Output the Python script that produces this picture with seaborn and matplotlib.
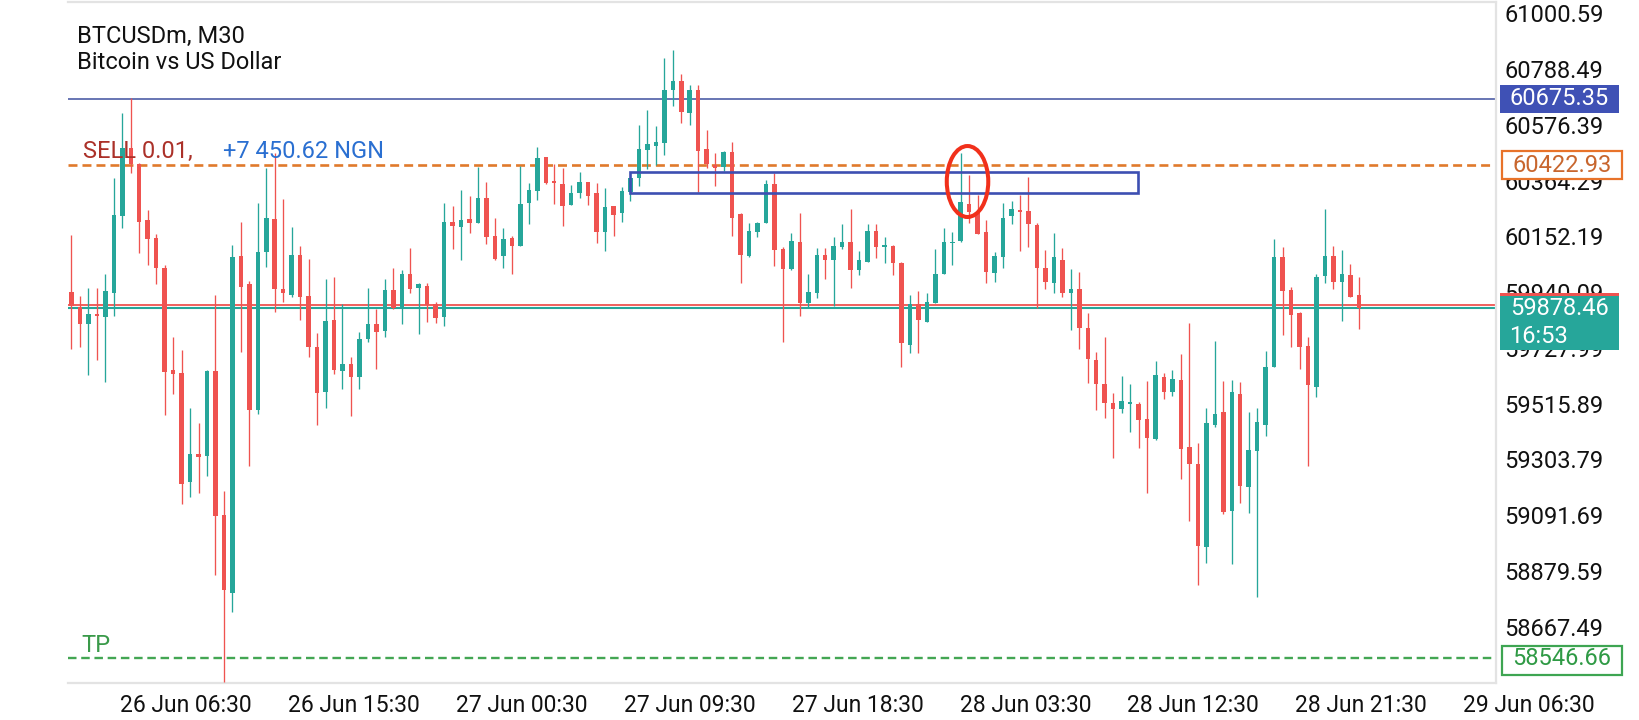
import matplotlib
matplotlib.use("Agg")
import numpy as np
import pandas as pd
import matplotlib.pyplot as plt
import matplotlib.transforms as mtransforms
from matplotlib.patches import Rectangle, Ellipse
import seaborn as sns

symbol_title = "BTCUSDm, M30"
symbol_desc = "Bitcoin vs US Dollar"

# M30 candles, oldest first
opens = [59940, 59883, 59818, 59856, 59845, 59937, 60230, 60489, 60428, 60215,
         60146, 60033, 59643, 59631, 59216, 59325, 59316, 59641, 59093, 58796,
         60076, 59971, 59493, 60093, 60219, 59951, 59928, 60080, 59924, 59733,
         59559, 59834, 59641, 59668, 59617, 59760, 59818, 59793, 59948, 59880,
         60008, 59954, 59962, 59894, 59847, 60207, 60189, 60218, 60204, 60298,
         60153, 60079, 60145, 60117, 60280, 60326, 60454, 60363, 60350, 60273,
         60318, 60359, 60317, 60169, 60269, 60242, 60322, 60373, 60481, 60496,
         60508, 60709, 60742, 60623, 60709, 60486, 60425, 60417, 60473, 60236,
         60077, 60170, 60204, 60351, 60104, 60027, 60131, 59900, 59935, 60080,
         60062, 60113, 60131, 60024, 60055, 60172, 60110, 60117, 60052, 59739,
         59895, 59828, 59897, 60011, 60126, 60134, 60275, 60246, 60169, 60014,
         60075, 60230, 60252, 60250, 60195, 60033, 59976, 60062, 59935, 59952,
         59802, 59682, 59590, 59517, 59497, 59516, 59514, 59456, 59380, 59616,
         59559, 59606, 59351, 59286, 58972, 59434, 59485, 59109, 59552, 59197,
         59337, 59434, 59656, 60075, 59948, 59859, 59736, 59580, 60001, 60077,
         59980, 60005, 59929]
highs = [60158, 59924, 59954, 59954, 60008, 60376, 60621, 60680, 60430, 60253,
         60161, 60044, 59769, 59720, 59499, 59444, 59645, 59931, 59182, 60121,
         60207, 59981, 60278, 60414, 60469, 60294, 60189, 60115, 60065, 59784,
         59992, 59999, 59894, 59695, 59788, 59954, 59876, 59989, 60033, 60026,
         60108, 59976, 59976, 59903, 60281, 60268, 60328, 60307, 60417, 60358,
         60221, 60186, 60153, 60421, 60354, 60491, 60455, 60427, 60412, 60347,
         60397, 60360, 60354, 60336, 60269, 60341, 60374, 60576, 60633, 60572,
         60832, 60861, 60770, 60728, 60728, 60557, 60468, 60477, 60511, 60240,
         60204, 60208, 60366, 60392, 60113, 60164, 60242, 60011, 60107, 60107,
         60148, 60198, 60255, 60096, 60199, 60199, 60148, 60119, 60055, 59929,
         59944, 59935, 60105, 60183, 60169, 60468, 60385, 60309, 60214, 60094,
         60278, 60288, 60309, 60377, 60202, 60100, 60167, 60107, 60027, 60016,
         59859, 59711, 59768, 59555, 59621, 59590, 59522, 59603, 59679, 59631,
         59644, 59705, 59821, 59365, 59498, 59754, 59602, 59606, 59597, 59485,
         59498, 59716, 60141, 60113, 59958, 59866, 59770, 60011, 60255, 60115,
         60100, 60047, 59996]
lows = [59722, 59730, 59624, 59681, 59597, 59849, 60183, 60394, 60090, 60044,
        59971, 59474, 59553, 59134, 59161, 59177, 59240, 58864, 58455, 58723,
        59713, 59277, 59477, 60036, 59863, 59903, 59921, 59835, 59695, 59436,
        59499, 59627, 59572, 59468, 59570, 59749, 59647, 59769, 59876, 59818,
        59935, 59781, 59828, 59822, 59812, 60104, 60062, 60166, 60202, 60123,
        60062, 60033, 60011, 60115, 60198, 60290, 60351, 60274, 60193, 60271,
        60299, 60271, 60128, 60098, 60155, 60208, 60288, 60345, 60407, 60422,
        60462, 60648, 60582, 60576, 60322, 60411, 60344, 60401, 60155, 59973,
        60072, 60151, 60202, 60039, 59751, 60024, 59849, 59882, 59916, 59989,
        59888, 60105, 59954, 60005, 60055, 60071, 60052, 60005, 59654, 59707,
        59710, 59828, 59897, 60011, 60043, 60132, 60202, 60162, 59973, 59980,
        60033, 60199, 60098, 60113, 59878, 59951, 59935, 59920, 59796, 59725,
        59593, 59491, 59462, 59310, 59481, 59409, 59348, 59174, 59377, 59532,
        59546, 59230, 59070, 58825, 58911, 59428, 59095, 58904, 59136, 59098,
        58780, 59394, 59656, 59776, 59732, 59646, 59278, 59542, 59976, 59952,
        59831, 59920, 59798]
closes = [59886, 59818, 59856, 59850, 59944, 60234, 60489, 60428, 60207, 60142,
          60033, 59635, 59627, 59209, 59325, 59314, 59641, 59090, 58807, 60074,
          59958, 59493, 60093, 60223, 59951, 59937, 60080, 59921, 59730, 59556,
          59831, 59645, 59665, 59617, 59763, 59818, 59788, 59948, 59880, 60008,
          59951, 59970, 59892, 59842, 60207, 60191, 60214, 60204, 60300, 60151,
          60065, 60142, 60117, 60275, 60328, 60449, 60356, 60356, 60269, 60316,
          60359, 60307, 60169, 60265, 60235, 60326, 60374, 60484, 60503, 60511,
          60711, 60742, 60626, 60709, 60477, 60427, 60413, 60473, 60223, 60081,
          60172, 60204, 60351, 60100, 60029, 60135, 59900, 59939, 60080, 60062,
          60114, 60131, 60024, 60062, 60172, 60113, 60119, 60050, 59745, 59895,
          59834, 59901, 60011, 60131, 60131, 60283, 60246, 60162, 60018, 60079,
          60223, 60255, 60246, 60198, 60031, 59980, 60075, 59938, 59951, 59802,
          59687, 59590, 59517, 59497, 59526, 59519, 59453, 59384, 59625, 59559,
          59609, 59344, 59285, 58974, 59443, 59476, 59105, 59561, 59204, 59339,
          59446, 59656, 60075, 59945, 59853, 59732, 59587, 59996, 60077, 59980,
          60008, 59923, 59878.46]

price_ticks = [61000.59, 60788.49, 60576.39, 60364.29, 60152.19, 59940.09,
               59727.99, 59515.89, 59303.79, 59091.69, 58879.59, 58667.49]
time_labels = ["26 Jun 06:30", "26 Jun 15:30", "27 Jun 00:30", "27 Jun 09:30",
               "27 Jun 18:30", "28 Jun 03:30", "28 Jun 12:30", "28 Jun 21:30",
               "29 Jun 06:30"]

hline_price = 60675.35
sell_price = 60422.93
tp_price = 58546.66
bid_price = 59878.46
ask_price = 59891.0
countdown = "16:53"
trade_label = "SELL 0.01,"
profit_label = "+7 450.62 NGN"

# hand-drawn annotations (bar index / price)
zone_bars = [65.9, 125.9]
zone_prices = [60316, 60396]
ring_center = [105.8, 60361]
ring_size = [4.9, 270]

UP = "#26a69a"
DOWN = "#ef5350"

df = pd.DataFrame({"open": opens, "high": highs, "low": lows, "close": closes})
df["bar"] = np.arange(len(df))
df["up"] = df["close"] >= df["open"]
df["color"] = np.where(df["up"], UP, DOWN)

sns.set_theme(style="white")
plt.rcParams["font.family"] = ["Roboto", "DejaVu Sans"]

fig = plt.figure(figsize=(16.4, 7.2), dpi=100)
ax = fig.add_axes([68 / 1640, 37 / 720, 1428 / 1640, 681 / 720])
ax.set_xlim(-0.41, 168.2)
ax.set_ylim(58453, 61044)
ppx = (61044 - 58453) / 681.0  # price per pixel

# candles
body_lo = df[["open", "close"]].min(axis=1)
body_h = (df["close"] - df["open"]).abs().clip(lower=ppx * 1.5)
ax.vlines(df["bar"], df["low"], df["high"], colors=df["color"], lw=0.95, zorder=3)
ax.bar(df["bar"], body_h, bottom=body_lo, width=0.53, color=df["color"],
       linewidth=0, zorder=4)

# horizontal levels
ax.axhline(hline_price, color="#3f4f9f", lw=1.1, zorder=2)
ax.axhline(sell_price, color="#e07a2c", lw=1.9, dashes=(3.4, 1.9), zorder=2)
ax.axhline(tp_price, color="#43a653", lw=1.7, dashes=(3.6, 2.0), zorder=2)
ax.axhline(ask_price, color=DOWN, lw=1.3, zorder=2)
ax.axhline(bid_price, color=UP, lw=1.5, zorder=2)

# drawn objects
ax.add_patch(Rectangle((zone_bars[0], zone_prices[0]), zone_bars[1] - zone_bars[0],
                       zone_prices[1] - zone_prices[0], fill=False,
                       edgecolor="#3d4fb2", lw=1.9, zorder=5))
ax.add_patch(Ellipse(ring_center, ring_size[0], ring_size[1], fill=False,
                     edgecolor="#f1301b", lw=2.9, zorder=6))

# texts in chart
ax.text(0.0061, 0.9403, symbol_title, transform=ax.transAxes, fontsize=17,
        color="#111111", va="baseline", ha="left")
ax.text(0.0061, 0.9011, symbol_desc, transform=ax.transAxes, fontsize=17,
        color="#111111", va="baseline", ha="left")
ax.annotate(trade_label, xy=(0.0103, sell_price), xycoords=("axes fraction", "data"),
            xytext=(0, 5.4), textcoords="offset points", fontsize=17,
            color="#ab3129", va="baseline", ha="left", zorder=7)
ax.annotate(profit_label, xy=(0.1083, sell_price), xycoords=("axes fraction", "data"),
            xytext=(0, 5.4), textcoords="offset points", fontsize=17,
            color="#2a6fd1", va="baseline", ha="left", zorder=7)
ax.annotate("TP", xy=(0.0095, tp_price), xycoords=("axes fraction", "data"),
            xytext=(0, 4.8), textcoords="offset points", fontsize=17,
            color="#3a9a4a", va="baseline", ha="left", zorder=7)

# price axis on the right
ax.yaxis.tick_right()
ax.set_yticks(price_ticks, [f"{p:.2f}" for p in price_ticks])
ax.tick_params(axis="y", length=3, width=1, color="#d6d6d6", pad=3,
               labelsize=17, labelcolor="#111111")

# time axis, labels start at their tick
bars_per_label = 19.82
ax.set_xticks([5.76 + k * bars_per_label for k in range(len(time_labels))], time_labels)
ax.tick_params(axis="x", length=3, width=1, color="#d6d6d6", pad=5,
               labelsize=16.5, labelcolor="#111111")
plt.setp(ax.get_xticklabels(), ha="left")

sns.despine(ax=ax, left=True, top=False, right=False, bottom=False)
for side in ["top", "right", "bottom"]:
    ax.spines[side].set_color("#e3e3e3")
    ax.spines[side].set_linewidth(1.6)

# price tags
blend = mtransforms.blended_transform_factory(ax.transAxes, ax.transData)


def price_tag(price, text, face, edge, tcolor, up_px=14, down_px=14, x0=1.0028, w=0.0833):
    ax.add_patch(Rectangle((x0, price - down_px * ppx), w, (up_px + down_px) * ppx,
                           transform=blend, facecolor=face, edgecolor=edge,
                           lw=1.6 if edge != "none" else 0, clip_on=False, zorder=8))
    ax.text(x0 + w / 2, price, text, transform=blend, ha="center", va="center",
            fontsize=17, color=tcolor, clip_on=False, zorder=9)


price_tag(hline_price, f"{hline_price:.2f}", "#3f51b5", "none", "white")
price_tag(sell_price, f"{sell_price:.2f}", "white", "#e8732a", "#c8662e",
          x0=1.0042, w=0.0840)
price_tag(tp_price, f"{tp_price:.2f}", "white", "#3ea552", "#2f9a45",
          up_px=12.5, down_px=16.5, x0=1.0042, w=0.0840)

# bid tag with countdown, red ask strip on top
ax.add_patch(Rectangle((1.0028, bid_price - 41.7 * ppx), 0.0833, 57 * ppx,
                       transform=blend, facecolor=UP, edgecolor="none",
                       clip_on=False, zorder=8))
ax.add_patch(Rectangle((1.0028, bid_price + 12.7 * ppx), 0.0833, 2.6 * ppx,
                       transform=blend, facecolor=DOWN, edgecolor="none",
                       clip_on=False, zorder=8))
ax.text(1.0028 + 0.0833 / 2, bid_price, f"{bid_price:.2f}", transform=blend,
        ha="center", va="center", fontsize=17, color="white", clip_on=False, zorder=9)
ax.text(1.0028 + 0.006, bid_price - 28.5 * ppx, countdown, transform=blend,
        ha="left", va="center", fontsize=17, color="white", clip_on=False, zorder=9)

fig.savefig("out.png", dpi=100)
